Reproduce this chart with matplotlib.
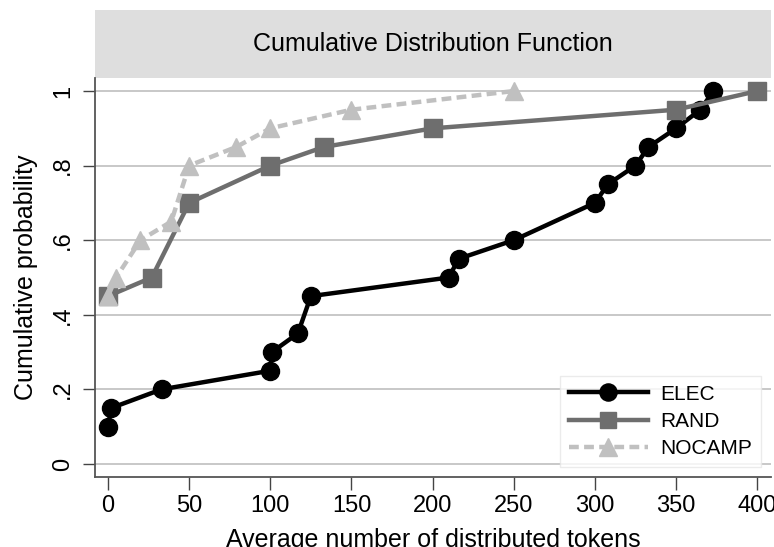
import numpy as np
import matplotlib.pyplot as plt

plt.rcParams['font.family'] = ['Liberation Sans', 'DejaVu Sans']

# data
elec_x = [0, 2, 33, 100, 101, 117, 125, 210, 216, 250, 300, 308, 325, 333, 350, 365, 373]
elec_y = [0.10, 0.15, 0.20, 0.25, 0.30, 0.35, 0.45, 0.50, 0.55, 0.60, 0.70, 0.75, 0.80, 0.85, 0.90, 0.95, 1.00]

rand_x = [0, 27, 50, 100, 133, 200, 350, 400]
rand_y = [0.45, 0.50, 0.70, 0.80, 0.85, 0.90, 0.95, 1.00]

nocamp_x = [0, 5, 20, 39, 50, 79, 100, 150, 250]
nocamp_y = [0.45, 0.50, 0.60, 0.65, 0.80, 0.85, 0.90, 0.95, 1.00]

x_ticks = [0, 50, 100, 150, 200, 250, 300, 350, 400]
y_ticks = [0, 0.2, 0.4, 0.6, 0.8, 1.0]
y_tick_labels = ['0', '.2', '.4', '.6', '.8', '1']

W, H = 774, 547
fig = plt.figure(figsize=(W / 100, H / 100), dpi=100)

# grey title band
band = fig.add_axes([95 / W, 1 - 78 / H, 676 / W, 68 / H])
band.set_facecolor('#dedede')
band.set_xticks([])
band.set_yticks([])
for s in band.spines.values():
    s.set_visible(False)
band.text(0.5, 0.5, 'Cumulative Distribution Function', ha='center', va='center',
          fontsize=18, transform=band.transAxes)

ax = fig.add_axes([95 / W, 1 - 477 / H, 676 / W, 399 / H])

ax.plot(elec_x, elec_y, color='black', lw=3.2, marker='o', ms=13, label='ELEC')
ax.plot(rand_x, rand_y, color='#6e6e6e', lw=3.2, marker='s', ms=12.5, label='RAND')
ax.plot(nocamp_x, nocamp_y, color='#c0c0c0', lw=3.2, ls=(0, (2.2, 1.2)), marker='^', ms=13.5,
        label='NOCAMP')

ax.set_xlim(-8, 408.5)
ax.set_ylim(-0.035, 1.035)
ax.set_xticks(x_ticks)
ax.set_yticks(y_ticks)
ax.set_yticklabels(y_tick_labels, rotation=90, va='center')
ax.tick_params(axis='both', labelsize=17, length=9, width=1, color='#444444')
ax.tick_params(axis='y', pad=6)
ax.tick_params(axis='x', pad=4)

ax.grid(axis='y', color='#c8c8c8', lw=1.4)
ax.set_axisbelow(True)
for s in ['top', 'right']:
    ax.spines[s].set_visible(False)
ax.spines['left'].set_color('#555555')
ax.spines['bottom'].set_color('#555555')
ax.spines['left'].set_linewidth(1.3)
ax.spines['bottom'].set_linewidth(1.3)

ax.set_xlabel('Average number of distributed tokens', fontsize=18, labelpad=8)
ax.set_ylabel('Cumulative probability', fontsize=18, labelpad=10)

leg = ax.legend(loc='lower right', fontsize=15, handlelength=3.8, frameon=True,
                fancybox=False, borderaxespad=0.5, labelspacing=0.4, handletextpad=0.6,
                markerscale=0.95)
leg.get_frame().set_edgecolor('#e6e6e6')
leg.get_frame().set_linewidth(1)

fig.savefig('out.png', dpi=100)
